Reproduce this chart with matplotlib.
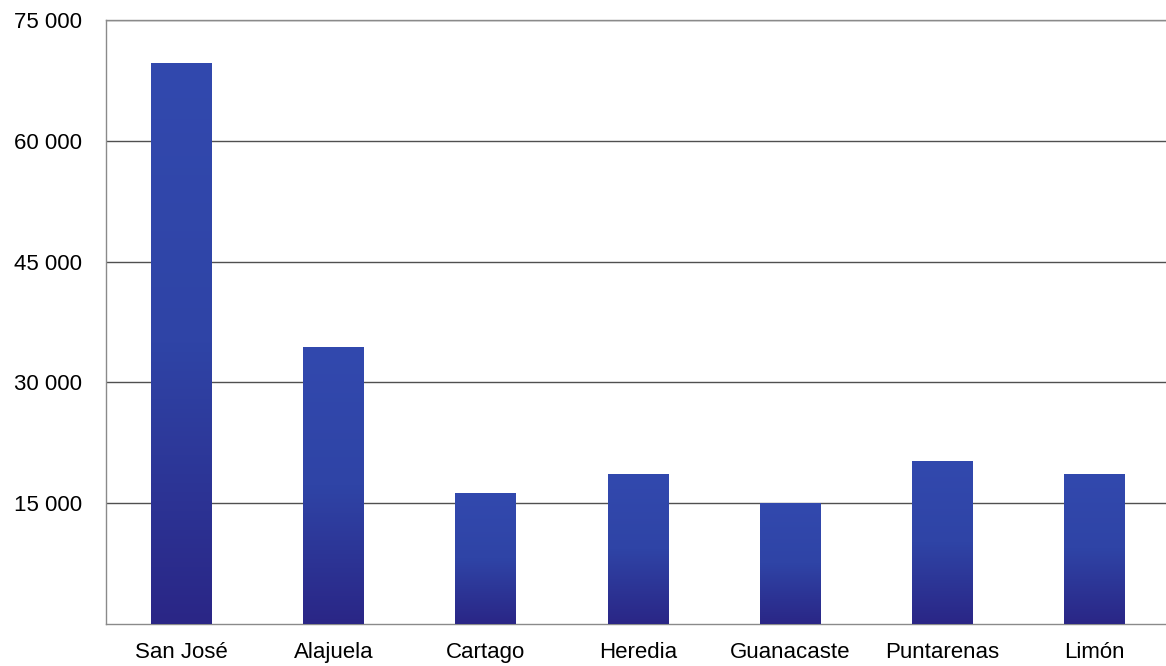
import numpy as np
import matplotlib.pyplot as plt
from matplotlib.colors import LinearSegmentedColormap
from matplotlib.ticker import FuncFormatter

provincias = ["San José", "Alajuela", "Cartago", "Heredia", "Guanacaste", "Puntarenas", "Limón"]
valores = [69700, 34430, 16230, 18590, 15060, 20240, 18630]
yticks = [15000, 30000, 45000, 60000, 75000]

plt.rcParams['font.family'] = ['Liberation Sans', 'DejaVu Sans']

fig = plt.figure(figsize=(11.66, 6.66), dpi=100)
ax = fig.add_axes([0.0905, 0.063, 0.9134, 0.907])

x = np.arange(len(provincias))
barras = ax.bar(x, valores, width=0.40, color="#2f3f9f", zorder=2)

# degradado vertical dentro de cada barra (más claro arriba, más oscuro abajo)
cmap = LinearSegmentedColormap.from_list("azul", ["#2a2686", "#2f44a6", "#3249ae"])
grad = np.linspace(0, 1, 256).reshape(-1, 1)
for b in barras:
    x0, y0 = b.get_x(), b.get_y()
    w, h = b.get_width(), b.get_height()
    im = ax.imshow(grad, cmap=cmap, origin="lower", aspect="auto",
                   extent=[x0, x0 + w, y0, y0 + h], zorder=3)
    im.set_clip_path(b)

ax.set_xlim(-0.5, len(provincias) - 0.5)
ax.set_ylim(0, 75000)
ax.set_yticks(yticks)
ax.yaxis.set_major_formatter(FuncFormatter(lambda v, p: f"{int(v):,}".replace(",", " ")))
ax.set_xticks(x)
ax.set_xticklabels(provincias)

ax.yaxis.grid(True, color="#505050", linewidth=1.0, zorder=1)
ax.tick_params(axis="both", length=0, labelsize=16, colors="black")
ax.tick_params(axis="y", pad=17)
ax.tick_params(axis="x", pad=13)

for lado in ["top", "left", "bottom"]:
    ax.spines[lado].set_color("#8a8a8a")
    ax.spines[lado].set_linewidth(1.0)
ax.spines["right"].set_visible(False)

fig.savefig("out.png", dpi=100)
